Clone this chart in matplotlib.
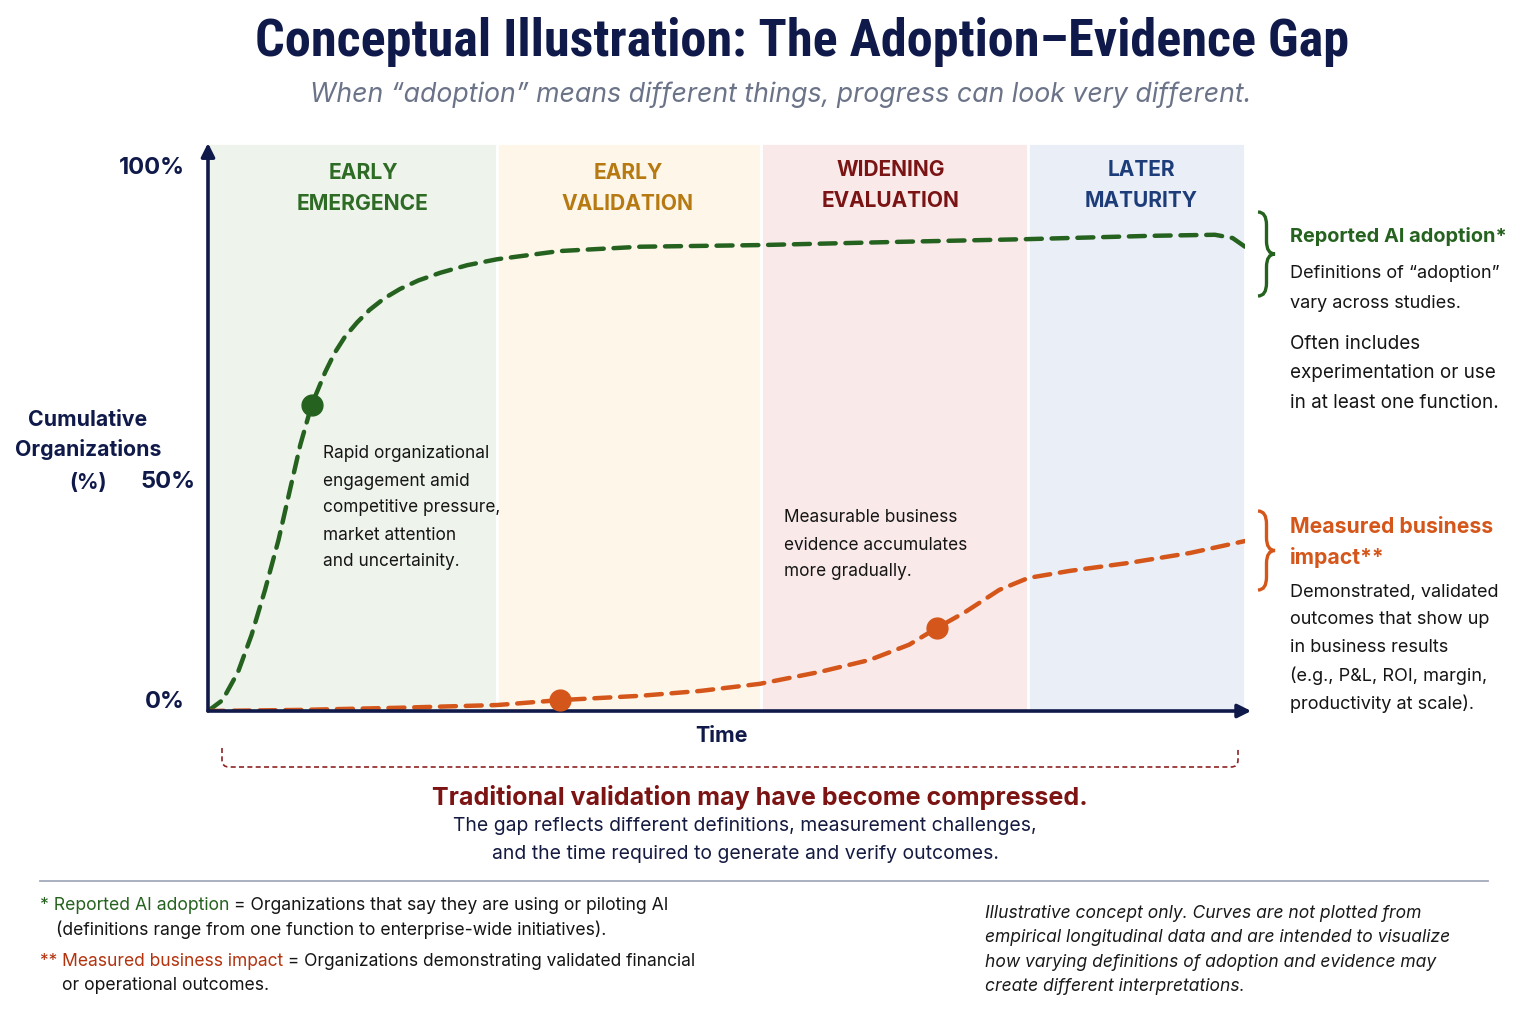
import matplotlib
matplotlib.use("Agg")
import matplotlib.pyplot as plt
from matplotlib import font_manager
from matplotlib.path import Path
from matplotlib.patches import PathPatch
from matplotlib.text import Annotation


def has_face(family, weight="normal", style="normal", key=None):
    try:
        f = font_manager.findfont(font_manager.FontProperties(family=family, weight=weight, style=style),
                                  fallback_to_default=False)
    except ValueError:
        return False
    return key is None or key in f.lower()


def pick_font(cands, weight="normal", style="normal", key=None):
    for c in cands:
        if has_face(c, weight, style, key):
            return c
    return "DejaVu Sans"


BODY = pick_font(["Inter", "Open Sans", "Lato", "Roboto", "Noto Sans"], "bold", key="bold")
ITAL = pick_font(["Inter", "Open Sans", "Lato", "Roboto", "Noto Sans"], style="italic", key="italic")
NARROW = pick_font(["Roboto Condensed", "Liberation Sans Narrow", "Roboto"], "bold")
plt.rcParams["font.family"] = [BODY, "DejaVu Sans"]

# data (conceptual curves)
phase_names = [["EARLY", "EMERGENCE"], ["EARLY", "VALIDATION"], ["WIDENING", "EVALUATION"], ["LATER", "MATURITY"]]
phase_edges = [0, 27.9, 53.3, 79.1, 100]

green_x = [0, 1.4, 2.9, 4.2, 5.5, 6.8, 7.9, 8.9, 10.0, 11.3, 12.2, 13.2, 14.4, 15.6, 17.0, 18.5,
           20.3, 22.4, 25.0, 27.9, 33.9, 41.7, 53.2, 66.7, 79.1, 90.8, 97.1, 98.8, 100]
green_y = [0, 2.0, 7.2, 14.0, 22.3, 31.5, 40.7, 49.0, 56.4, 62.4, 65.9, 68.9, 71.6, 73.9, 76.0, 77.7,
           79.3, 80.7, 82.1, 83.2, 84.7, 85.5, 85.8, 86.4, 86.9, 87.5, 87.7, 87.1, 85.5]
orange_x = [0, 8.9, 18.5, 27.9, 33.9, 41.7, 47.5, 53.2, 59.0, 63.8, 67.6, 70.3, 73.0,
            76.3, 79.1, 83.1, 88.9, 94.7, 100]
orange_y = [0, 0.2, 0.6, 1.1, 2.0, 2.8, 3.7, 5.0, 7.2, 9.4, 12.2, 15.3, 18.2,
            22.3, 24.5, 25.8, 27.3, 29.1, 31.3]
green_mark_x = [10.0]
green_mark_y = [56.4]
orange_mark_x = [33.9, 70.3]
orange_mark_y = [2.0, 15.3]

ytick_pos = [1.7, 42.2, 100]
ytick_labels = ["0%", "50%", "100%"]

# colours
NAVY = "#101a4a"
GREEN = "#25621f"
ORANGE = "#d4561a"
DARKRED = "#7c1414"
INK = "#151515"
band_colors = ["#eef4ec", "#fdf6e9", "#f9e9e9", "#eaeef6"]
band_text = ["#2e6b24", "#b77a12", "#7a1414", "#1d3d7a"]

W, H = 1535, 1024
fig = plt.figure(figsize=(W / 100, H / 100), dpi=100)
fig.patch.set_facecolor("white")
R = fig.canvas.get_renderer()


def P(x, y):
    return x / W, 1 - y / H


def block(x, y0, pitch, lines, width=None, ha="left", **kw):
    # one text per line, then scale all to the wanted pixel width of the longest line
    ts = [fig.text(*P(x, y0 + i * pitch), s, ha=ha, va="center", **kw) for i, s in enumerate(lines)]
    if width:
        wmax = max(t.get_window_extent(R).width for t in ts)
        for t in ts:
            t.set_fontsize(t.get_fontsize() * width / wmax)
    return ts[0].get_fontsize()


ax = fig.add_axes([208 / W, 1 - 711 / H, 1037 / W, (711 - 143) / H])
ax.set_xlim(0, 100)
ax.set_ylim(0, 104.6)
for s in ax.spines.values():
    s.set_visible(False)
ax.set_xticks([])
ax.set_yticks([])

# y tick labels (50% sits a little further right in the original)
tick_x = [-0.0222, -0.0125, -0.0222]
for xp, yv, lab in zip(tick_x, ytick_pos, ytick_labels):
    ax.text(xp, yv, lab, transform=ax.get_yaxis_transform(), ha="right", va="center",
            fontsize=17, fontweight="bold", color=NAVY)

# phase bands
label_x = [363, 628, 891, 1141]
label_w = [132, 132, 138, 113]
label_y = [173, 173, 170, 170]
for i, name in enumerate(phase_names):
    ax.axvspan(phase_edges[i], phase_edges[i + 1], color=band_colors[i], ec="white", lw=2, zorder=0)
    block(label_x[i], label_y[i], 31, name, label_w[i], ha="center",
          fontsize=15, fontweight="bold", color=band_text[i])

# curves
ax.plot(green_x, green_y, color=GREEN, lw=3.2, ls=(0, (3.6, 2.2)), dash_capstyle="round", zorder=3)
ax.plot(orange_x, orange_y, color=ORANGE, lw=3.2, ls=(0, (3.6, 2.2)), dash_capstyle="round", zorder=3)
ax.plot(green_mark_x, green_mark_y, "o", color=GREEN, ms=15, zorder=4)
ax.plot(orange_mark_x, orange_mark_y, "o", color=ORANGE, ms=15, zorder=4)

# axes arrows
for tip in [(0, 1), (1.006, 0)]:
    ax.annotate("", xy=tip, xytext=(0, 0), xycoords="axes fraction",
                arrowprops=dict(arrowstyle="-|>", color=NAVY, lw=2.6, mutation_scale=20,
                                shrinkA=0, shrinkB=0), annotation_clip=False)

# notes inside the plot
block(323, 454, 27, ["Rapid organizational", "engagement amid", "competitive pressure,",
                     "market attention", "and uncertainity."], 177, fontsize=12.5, color=INK)
block(784, 518, 27, ["Measurable business", "evidence accumulates", "more gradually."], 183,
      fontsize=12.5, color=INK)

# title block
block(802, 42, 0, ["Conceptual Illustration: The Adoption\u2013Evidence Gap"], 1095, ha="center",
      family=NARROW, fontsize=36, fontweight="bold", color=NAVY)
block(781, 95, 0, ["When \u201cadoption\u201d means different things, progress can look very different."],
      942, ha="center", family=ITAL, fontsize=18, style="italic", color="#6b7388")

# y label
for yy, s in zip([420, 450, 483], ["Cumulative", "Organizations", "(%)"]):
    fig.text(*P(88, yy), s, ha="center", va="center", fontsize=15.3, fontweight="bold", color=NAVY)
fig.text(*P(722, 736), "Time", ha="center", va="center", fontsize=15.5, fontweight="bold", color=NAVY)


# curly braces on the right
def brace(x0, top, bot, color, w=17, r=13):
    mid = (top + bot) / 2
    h = w / 2
    pts = [(x0, top), (x0 + h, top), (x0 + h, top + r), (x0 + h, mid - r),
           (x0 + h, mid), (x0 + w, mid), (x0 + h, mid), (x0 + h, mid + r),
           (x0 + h, bot - r), (x0 + h, bot), (x0, bot)]
    codes = [Path.MOVETO, Path.CURVE3, Path.CURVE3, Path.LINETO, Path.CURVE3, Path.CURVE3,
             Path.CURVE3, Path.CURVE3, Path.LINETO, Path.CURVE3, Path.CURVE3]
    fig.add_artist(PathPatch(Path([P(x, y) for x, y in pts], codes), fc="none", ec=color, lw=2.4,
                             transform=fig.transFigure))


brace(1258, 212, 296, GREEN)
brace(1258, 511, 590, ORANGE)

block(1290, 237, 0, ["Reported AI adoption*"], 217, fontsize=14, fontweight="bold", color=GREEN)
side_fs = block(1290, 344, 29.5, ["Often includes", "experimentation or use", "in at least one function."],
                208, fontsize=13, color=INK)
block(1290, 274, 29, ["Definitions of \u201cadoption\u201d", "vary across studies."],
      fontsize=side_fs * 0.96, color=INK)
block(1290, 527, 31, ["Measured business", "impact**"], 203, fontsize=15.5, fontweight="bold",
      color=ORANGE)
block(1290, 592, 28, ["Demonstrated, validated", "outcomes that show up", "in business results",
                      "(e.g., P&L, ROI, margin,", "productivity at scale)."], 209, fontsize=13, color=INK)

# dashed bracket under the x axis
bx0, bx1, by, btop = 222, 1238, 767, 748
bpts = [(bx0, btop), (bx0, by - 7), (bx0, by), (bx0 + 7, by), (bx1 - 7, by), (bx1, by),
        (bx1, by - 7), (bx1, btop)]
bcodes = [Path.MOVETO, Path.LINETO, Path.CURVE3, Path.CURVE3, Path.LINETO, Path.CURVE3,
          Path.CURVE3, Path.LINETO]
fig.add_artist(PathPatch(Path([P(x, y) for x, y in bpts], bcodes), fc="none", ec="#8e2323",
                         lw=1.2, ls=(0, (3, 2)), transform=fig.transFigure))

block(760, 797, 0, ["Traditional validation may have become compressed."], 655, ha="center",
      fontsize=17.5, fontweight="bold", color=DARKRED)
block(745, 826, 28, ["The gap reflects different definitions, measurement challenges,",
                     "and the time required to generate and verify outcomes."], 581, ha="center",
      fontsize=13, color="#141a40")

# footer
fig.add_artist(plt.Line2D([40 / W, 1488 / W], [1 - 881 / H] * 2, color="#a3aabb", lw=1.3,
                          transform=fig.transFigure))


def two_tone(x, y, first, rest, c1, width, size=12):
    t1 = fig.text(*P(x, y), first, ha="left", va="center", fontsize=size, color=c1)
    t2 = Annotation(rest, xy=(1, 0.5), xycoords=t1, ha="left", va="center", fontsize=size, color=INK)
    fig.add_artist(t2)
    w = t1.get_window_extent(R).width + t2.get_window_extent(R).width
    for t in (t1, t2):
        t.set_fontsize(size * width / w)
    return t1.get_fontsize()


fs = two_tone(40, 906, "* Reported AI adoption", " = Organizations that say they are using or piloting AI",
              GREEN, 630)
fig.text(*P(56, 930), "(definitions range from one function to enterprise-wide initiatives).", ha="left",
         va="center", fontsize=fs, color=INK)
two_tone(40, 962, "** Measured business impact", " = Organizations demonstrating validated financial",
         "#b3330f", 656)
fig.text(*P(62, 986), "or operational outcomes.", ha="left", va="center", fontsize=fs, color=INK)

block(985, 913, 24.6, ["Illustrative concept only. Curves are not plotted from",
                       "empirical longitudinal data and are intended to visualize",
                       "how varying definitions of adoption and evidence may",
                       "create different interpretations."], 465,
      family=ITAL, fontsize=12, style="italic", color="#1a1a1a")

fig.savefig("out.png", dpi=100, facecolor="white")
